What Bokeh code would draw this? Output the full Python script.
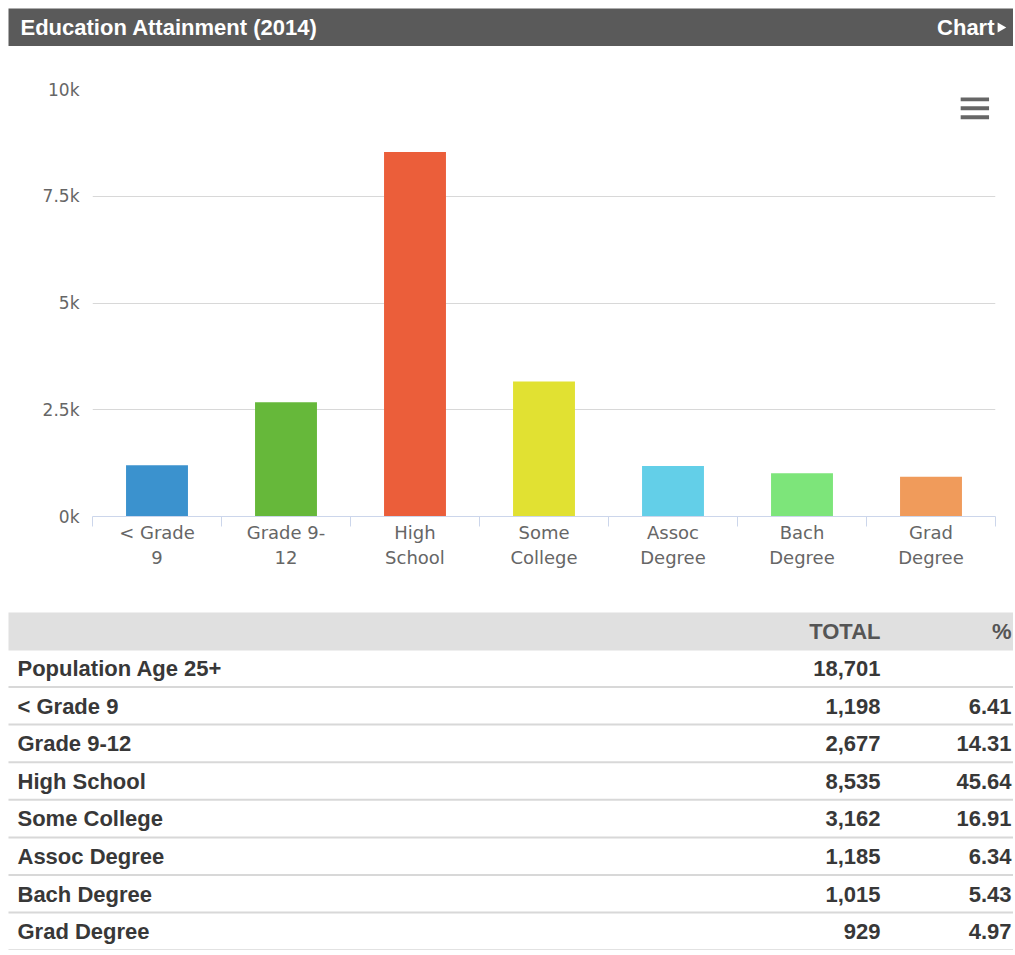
from bokeh.plotting import figure
from bokeh.layouts import column
from bokeh.models import Range1d, FixedTicker
from bokeh.core.properties import value
from bokeh.embed import file_html
from bokeh.resources import INLINE

# ---- data ----
title_text = "Education Attainment (2014)"
link_text = "Chart"
categories = ["< Grade 9", "Grade 9-12", "High School", "Some College",
              "Assoc Degree", "Bach Degree", "Grad Degree"]
axis_labels = ["< Grade\n9", "Grade 9-\n12", "High\nSchool", "Some\nCollege",
               "Assoc\nDegree", "Bach\nDegree", "Grad\nDegree"]
counts = [1198, 2677, 8535, 3162, 1185, 1015, 929]
colors = ["#3b92ce", "#66b83a", "#eb5e3a", "#e1e132", "#63cfe8", "#7de57a", "#f09b5b"]
y_ticks = [0, 2500, 5000, 7500, 10000]
y_tick_labels = ["0k", "2.5k", "5k", "7.5k", "10k"]
total_label = "Population Age 25+"
total_value = 18701
percents = ["6.41", "14.31", "45.64", "16.91", "6.34", "5.43", "4.97"]
col_headers = ["TOTAL", "%"]

W = 1013
FONT_T = value("Liberation Sans")
FONT_C = "DejaVu Sans"


def bare(fig):
    fig.axis.visible = False
    fig.grid.visible = False
    fig.outline_line_color = None
    fig.frame_align = False


# ---- header bar ----
HH = 46
hdr = figure(width=W, height=HH, x_range=Range1d(0, W), y_range=Range1d(HH, 0),
             output_backend="svg", toolbar_location=None, min_border=0)
bare(hdr)
hdr.quad(left=[8], right=[W], top=[8], bottom=[46], fill_color="#5a5a5a", line_color=None)
hdr.text(x=[20], y=[27], text=[title_text], text_font=FONT_T, text_font_style="bold",
         text_font_size="22px", text_color="white", text_baseline="middle", text_align="left")
hdr.text(x=[994], y=[27], text=[link_text], text_font=FONT_T, text_font_style="bold",
         text_font_size="22px", text_color="white", text_baseline="middle", text_align="right")
hdr.scatter(x=[1000], y=[27], marker="triangle", size=10, angle=-1.5708,
            fill_color="white", line_color=None)

# ---- chart ----
n = len(categories)
xs = [i + 0.5 for i in range(n)]
p = figure(width=W, height=554, x_range=Range1d(0, n), y_range=Range1d(0, 10000),
           output_backend="svg", toolbar_location=None,
           min_border_left=92, min_border_right=18, min_border_top=43, min_border_bottom=84)
p.outline_line_color = None
p.frame_align = False
p.vbar(x=xs, top=counts, width=0.48, fill_color=colors, line_color=None)

p.xgrid.visible = False
p.ygrid.grid_line_color = "#d8d8d8"
p.ygrid.ticker = FixedTicker(ticks=y_ticks[1:])

p.yaxis.ticker = FixedTicker(ticks=y_ticks)
p.yaxis.major_label_overrides = dict(zip(y_ticks, y_tick_labels))
p.yaxis.axis_line_color = None
p.yaxis.major_tick_line_color = None
p.yaxis.major_tick_out = 0
p.yaxis.minor_tick_line_color = None
p.yaxis.major_label_standoff = 13
p.yaxis.major_label_text_font = FONT_C
p.yaxis.major_label_text_font_size = "17px"
p.yaxis.major_label_text_color = "#666666"

p.xaxis.ticker = FixedTicker(ticks=xs, minor_ticks=list(range(n + 1)))
p.xaxis.major_label_overrides = dict(zip(xs, axis_labels))
p.xaxis.axis_line_color = "#ccd6eb"
p.xaxis.major_tick_line_color = None
p.xaxis.major_tick_out = 0
p.xaxis.minor_tick_line_color = "#ccd6eb"
p.xaxis.minor_tick_out = 10
p.xaxis.minor_tick_in = 0
p.xaxis.major_label_standoff = -5
p.xaxis.major_label_text_font = FONT_C
p.xaxis.major_label_text_font_size = "18px"
p.xaxis.major_label_text_color = "#666666"
p.xaxis.major_label_text_line_height = 1.2

# menu icon (decoration, placed in data space near the top-right corner)
icon_left, icon_right = 6.73, 6.95
icon_rows = [9770, 9560, 9350]
p.quad(left=[icon_left] * 3, right=[icon_right] * 3,
       top=[y + 45 for y in icon_rows], bottom=[y - 45 for y in icon_rows],
       fill_color="#666666", line_color=None)

# ---- table ----
TH = 350
t = figure(width=W, height=TH, x_range=Range1d(0, W), y_range=Range1d(TH, 0),
           output_backend="svg", toolbar_location=None, min_border=0)
bare(t)
t.quad(left=[8], right=[W], top=[12], bottom=[50], fill_color="#e0e0e0", line_color=None)
t.text(x=[880, 1011], y=[31, 31], text=col_headers, text_font=FONT_T, text_font_style="bold",
       text_font_size="22px", text_color="#555555", text_baseline="middle", text_align="right")

row_labels = [total_label] + categories
row_totals = [f"{total_value:,}"] + [f"{c:,}" for c in counts]
row_pcts = [""] + percents
pitch = 37.6
row_y = [68 + pitch * i for i in range(len(row_labels))]
sep_y = [y + 18.5 for y in row_y]
t.segment(x0=[8] * len(sep_y), x1=[W] * len(sep_y), y0=sep_y, y1=sep_y,
          line_color="#d8d8d8", line_width=2)
t.text(x=[17] * len(row_labels), y=row_y, text=row_labels, text_font=FONT_T, text_font_style="bold",
       text_font_size="22px", text_color="#383838", text_baseline="middle", text_align="left")
t.text(x=[880] * len(row_labels), y=row_y, text=row_totals, text_font=FONT_T, text_font_style="bold",
       text_font_size="22px", text_color="#383838", text_baseline="middle", text_align="right")
t.text(x=[1011] * len(row_labels), y=row_y, text=row_pcts, text_font=FONT_T, text_font_style="bold",
       text_font_size="22px", text_color="#383838", text_baseline="middle", text_align="right")

layout = column(hdr, p, t, spacing=0)
open("out.html", "w").write(file_html(layout, INLINE))
